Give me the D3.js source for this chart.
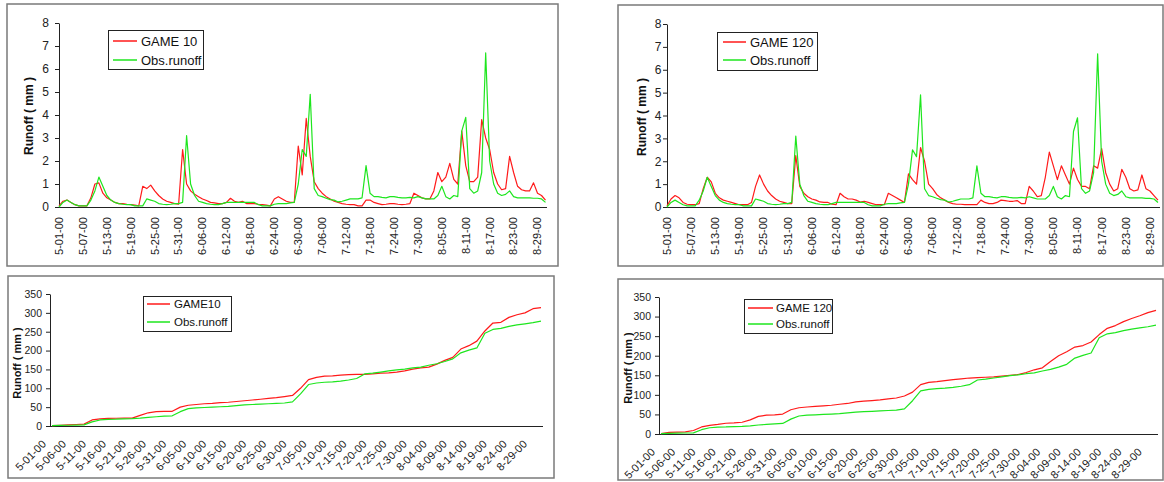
<!DOCTYPE html>
<html lang="en">
<head>
<meta charset="utf-8">
<title>Runoff GAME 10 / GAME 120</title>
<script src="https://cdn.jsdelivr.net/npm/d3@7"></script>
<style>
  html, body { margin: 0; background: #fff; }
  svg { display: block; font-family: "Liberation Sans", Arial, sans-serif; }
</style>
</head>
<body>
<script>
const W = 1164, H = 482;

// one category per day, 5-01-00 .. 8-31-00
const days = d3.timeDay.range(new Date(2000, 4, 1), new Date(2000, 8, 1))
  .map(d3.timeFormat("%-m-%d-%y"));

// daily runoff (mm)
const game10 = [
  0.05, 0.25, 0.3, 0.2, 0.1, 0.05, 0.05, 0.05, 0.4, 1.0,
  1.05, 0.6, 0.4, 0.3, 0.2, 0.15, 0.15, 0.12, 0.1, 0.08,
  0.05, 0.9, 0.8, 0.95, 0.7, 0.5, 0.35, 0.25, 0.2, 0.15,
  0.12, 2.5, 1.0, 0.7, 0.55, 0.45, 0.35, 0.28, 0.2, 0.18,
  0.15, 0.15, 0.2, 0.38, 0.25, 0.2, 0.25, 0.15, 0.15, 0.15,
  0.12, 0.1, 0.08, 0.05, 0.35, 0.45, 0.35, 0.25, 0.2, 0.2,
  2.65, 1.4, 3.85, 2.2, 1.1, 0.8, 0.6, 0.45, 0.35, 0.25,
  0.2, 0.15, 0.12, 0.1, 0.1, 0.05, 0.05, 0.3, 0.3, 0.2,
  0.15, 0.1, 0.12, 0.15, 0.15, 0.12, 0.1, 0.12, 0.15, 0.6,
  0.5, 0.4, 0.35, 0.35, 0.7, 1.5, 1.1, 1.3, 1.9, 1.2,
  1.0, 3.3, 1.8, 1.1, 1.1, 1.3, 3.8, 3.0, 2.5, 1.5,
  1.0, 0.75, 0.8, 2.2, 1.5, 0.9, 0.75, 0.7, 0.7, 1.05,
  0.6, 0.5, 0.3
];
const game120 = [
  0.05, 0.35, 0.5, 0.4, 0.2, 0.12, 0.1, 0.1, 0.15, 0.8,
  1.3, 1.1, 0.6, 0.4, 0.3, 0.25, 0.2, 0.15, 0.1, 0.1,
  0.1, 0.2, 0.9, 1.4, 1.0, 0.7, 0.5, 0.35, 0.25, 0.2,
  0.15, 0.15, 2.25, 0.9, 0.6, 0.45, 0.35, 0.3, 0.22, 0.2,
  0.2, 0.12, 0.1, 0.6, 0.45, 0.35, 0.35, 0.3, 0.22, 0.25,
  0.2, 0.15, 0.1, 0.1, 0.1, 0.6, 0.5, 0.4, 0.3, 0.2,
  1.45, 1.2, 1.0, 2.6, 2.0, 1.0, 0.8, 0.55, 0.4, 0.3,
  0.2, 0.15, 0.12, 0.12, 0.1, 0.1, 0.1, 0.1, 0.3, 0.2,
  0.15, 0.15, 0.2, 0.3, 0.28, 0.25, 0.25, 0.28, 0.15, 0.15,
  0.9, 0.7, 0.45, 0.5, 1.3, 2.4, 1.8, 1.2, 1.8, 1.4,
  1.0, 1.7, 1.2, 0.9, 0.9, 0.8, 1.8, 1.7, 2.55, 1.5,
  1.0, 0.7, 0.8, 1.65, 1.3, 0.8, 0.7, 0.75, 1.4, 0.8,
  0.7, 0.5, 0.3
];
const obs = [
  0.0, 0.2, 0.3, 0.2, 0.1, 0.05, 0.05, 0.05, 0.3, 0.7,
  1.3, 0.9, 0.5, 0.3, 0.2, 0.15, 0.12, 0.1, 0.1, 0.05,
  0.05, 0.05, 0.35, 0.3, 0.25, 0.15, 0.12, 0.1, 0.12, 0.15,
  0.15, 0.2, 3.1, 1.0, 0.5, 0.25, 0.2, 0.15, 0.12, 0.1,
  0.1, 0.15, 0.2, 0.2, 0.2, 0.2, 0.2, 0.2, 0.2, 0.2,
  0.1, 0.05, 0.05, 0.05, 0.12, 0.15, 0.15, 0.15, 0.18, 0.2,
  1.0, 2.5, 2.2, 4.9, 0.8, 0.5, 0.45, 0.38, 0.32, 0.3,
  0.22, 0.25, 0.3, 0.35, 0.35, 0.35, 0.4, 1.8, 0.6, 0.45,
  0.45, 0.42, 0.4, 0.45, 0.45, 0.42, 0.4, 0.4, 0.42, 0.4,
  0.45, 0.4, 0.35, 0.35, 0.35, 0.5, 0.9, 0.45, 0.35, 0.5,
  0.45, 3.3, 3.9, 0.8, 0.6, 0.7, 1.5, 6.7, 2.0, 1.0,
  0.6, 0.5, 0.55, 0.7, 0.45, 0.4, 0.4, 0.4, 0.4, 0.38,
  0.38, 0.35, 0.2
];

// cumulative runoff (mm), read every second day
const cumIndex = d3.range(0, 123, 2);
const cumGame10 = [
  1, 2, 3, 4, 5, 16, 19, 20, 20.5, 21,
  21, 28, 35, 38, 39, 39, 50, 55, 57, 59,
  60, 62, 63, 65, 67, 69, 71, 73, 75, 78,
  81, 100, 123, 129, 132, 133, 135, 136, 137, 137,
  138, 140, 141, 143, 146, 151, 154, 156, 164, 174,
  182, 204, 213, 225, 252, 273, 275, 288, 295, 300,
  311, 314
];
const cumGame120 = [
  1, 4, 5, 5.5, 9, 18, 22, 24.5, 27.5, 28.5,
  30, 36, 45, 48, 49, 51, 62, 67, 69, 70.5,
  72, 73.5, 76, 78, 82, 84, 85.5, 87, 89.5, 92,
  97, 107, 126, 132, 134, 136.5, 139, 141, 143, 144,
  145, 146, 148, 150, 152, 157, 164, 169, 185, 200,
  210, 222, 226, 235, 254, 270, 277, 287, 295, 302,
  310, 316
];
const cumObs = [
  1, 1.5, 2, 2.5, 3, 11, 16, 17.5, 18, 19,
  19.5, 21, 23, 24.5, 26, 27, 38, 46, 48, 49,
  50, 51, 52, 54, 56, 57, 58, 59, 60, 61,
  64, 85, 110, 114, 116, 117, 119, 122, 126, 138,
  140, 143, 146, 149, 151, 154, 156, 161, 165, 171,
  178, 194, 201, 207, 246, 256, 259, 264, 268, 271,
  274, 278
];

const dailyTicks = ["5-01-00", "5-07-00", "5-13-00", "5-19-00", "5-25-00", "5-31-00",
  "6-06-00", "6-12-00", "6-18-00", "6-24-00", "6-30-00", "7-06-00", "7-12-00",
  "7-18-00", "7-24-00", "7-30-00", "8-05-00", "8-11-00", "8-17-00", "8-23-00", "8-29-00"];
const cumTicks = ["5-01-00", "5-06-00", "5-11-00", "5-16-00", "5-21-00", "5-26-00",
  "5-31-00", "6-05-00", "6-10-00", "6-15-00", "6-20-00", "6-25-00", "6-30-00",
  "7-05-00", "7-10-00", "7-15-00", "7-20-00", "7-25-00", "7-30-00", "8-04-00",
  "8-09-00", "8-14-00", "8-19-00", "8-24-00", "8-29-00"];
const dailyY = d3.range(0, 9);
const cumY = d3.range(0, 351, 50);

const RED = "#ff1a1a", GREEN = "#1ee61e";

const svg = d3.select("body").append("svg")
  .attr("width", W).attr("height", H);

function panel(c) {
  const g = svg.append("g");

  g.append("rect")
    .attr("x", c.box[0]).attr("y", c.box[1])
    .attr("width", c.box[2] - c.box[0]).attr("height", c.box[3] - c.box[1])
    .attr("fill", "#fff").attr("stroke", "#7a7a7a").attr("stroke-width", 1.5);

  const x = d3.scalePoint().domain(days).range([c.x0, c.x1]);
  const y = d3.scaleLinear().domain([0, c.ymax]).range([c.yb, c.yt]);

  // y axis
  const ya = g.append("g")
    .attr("transform", `translate(${c.ax},0)`)
    .call(d3.axisLeft(y).tickValues(c.yticks).tickSize(4).tickSizeOuter(0).tickPadding(c.pad));
  ya.select(".domain").attr("stroke", "#222");
  ya.selectAll(".tick line").attr("stroke", "#222");
  ya.selectAll("text").attr("font-size", c.yfont).attr("fill", "#222")
    .attr("font-family", "Liberation Sans, Arial, sans-serif");

  // x axis line
  g.append("line")
    .attr("x1", c.ax).attr("x2", c.axEnd)
    .attr("y1", c.yb + 0.5).attr("y2", c.yb + 0.5)
    .attr("stroke", "#222");

  // x labels
  g.selectAll("text.xl").data(c.xticks).join("text")
    .attr("class", "xl")
    .attr("font-size", 11).attr("fill", "#222")
    .attr("text-anchor", "end")
    .attr("transform", d => c.rot === 90
      ? `translate(${x(d)},${c.yb + 10}) rotate(-90)`
      : `translate(${x(d) + c.lx},${c.yb + c.ly}) rotate(-45)`)
    .attr("dy", "0.35em")
    .text(d => d);

  // y title
  g.append("text")
    .attr("transform", `translate(${c.tx},${c.ty}) rotate(-90)`)
    .attr("text-anchor", "middle").attr("dy", "0.35em")
    .attr("font-weight", "bold").attr("font-size", c.tfont).attr("fill", "#111")
    .text("Runoff ( mm )");

  // series
  const line = d3.line().x(d => x(d[0])).y(d => y(d[1]));
  c.series.forEach(s => {
    const pts = s.values.map((v, k) => [days[s.index ? s.index[k] : k], v]);
    g.append("path").datum(pts)
      .attr("fill", "none").attr("stroke", s.color).attr("stroke-width", 1.2)
      .attr("stroke-linejoin", "round")
      .attr("d", line);
  });

  // legend
  const L = c.legend;
  g.append("rect")
    .attr("x", L.box[0] + 0.5).attr("y", L.box[1] + 0.5)
    .attr("width", L.box[2] - L.box[0]).attr("height", L.box[3] - L.box[1])
    .attr("fill", "#fff").attr("stroke", "#222");
  c.series.forEach((s, k) => {
    const yy = L.rows[k];
    g.append("line")
      .attr("x1", L.l0).attr("x2", L.l1).attr("y1", yy).attr("y2", yy)
      .attr("stroke", s.color).attr("stroke-width", 1.5);
    g.append("text")
      .attr("x", L.tx).attr("y", yy).attr("dy", "0.35em")
      .attr("font-size", L.font).attr("fill", "#111")
      .text(s.name);
  });
}

panel({
  box: [7, 4, 558, 266], ax: 59, axEnd: 547, x0: 59, x1: 545.5,
  yb: 207, yt: 23, ymax: 8, yticks: dailyY, pad: 6, yfont: 12,
  xticks: dailyTicks, rot: 90,
  tx: 29, ty: 116, tfont: 12,
  series: [
    { name: "GAME 10", color: RED, values: game10 },
    { name: "Obs.runoff", color: GREEN, values: obs }
  ],
  legend: { box: [108, 30, 203, 69], rows: [41, 60], l0: 113, l1: 137, tx: 141, font: 13 }
});

panel({
  box: [618, 5, 1163, 266], ax: 667, axEnd: 1160, x0: 667, x1: 1158,
  yb: 207, yt: 24, ymax: 8, yticks: dailyY, pad: 1.5, yfont: 12,
  xticks: dailyTicks, rot: 90,
  tx: 642, ty: 117, tfont: 12,
  series: [
    { name: "GAME 120", color: RED, values: game120 },
    { name: "Obs.runoff", color: GREEN, values: obs }
  ],
  legend: { box: [717, 32, 817, 70], rows: [42, 60], l0: 723, l1: 746, tx: 750, font: 13 }
});

panel({
  box: [8, 276, 554, 478], ax: 50, axEnd: 543, x0: 52, x1: 541,
  yb: 426, yt: 294, ymax: 350, yticks: cumY, pad: 4, yfont: 10.5,
  xticks: cumTicks, rot: 45, lx: -8, ly: 16,
  tx: 17, ty: 363, tfont: 11,
  series: [
    { name: "GAME10", color: RED, values: cumGame10, index: cumIndex },
    { name: "Obs.runoff", color: GREEN, values: cumObs, index: cumIndex }
  ],
  legend: { box: [143, 296, 231, 331], rows: [304, 322], l0: 147, l1: 170, tx: 174, font: 11.5 }
});

panel({
  box: [618, 279, 1163, 480], ax: 659, axEnd: 1158, x0: 661, x1: 1156,
  yb: 434, yt: 297, ymax: 350, yticks: cumY, pad: 4, yfont: 10.5,
  xticks: cumTicks, rot: 45, lx: -8, ly: 16,
  tx: 628, ty: 368, tfont: 11,
  series: [
    { name: "GAME 120", color: RED, values: cumGame120, index: cumIndex },
    { name: "Obs.runoff", color: GREEN, values: cumObs, index: cumIndex }
  ],
  legend: { box: [744, 299, 832, 333], rows: [308, 324], l0: 748, l1: 773, tx: 776, font: 11.5 }
});
</script>
</body>
</html>
